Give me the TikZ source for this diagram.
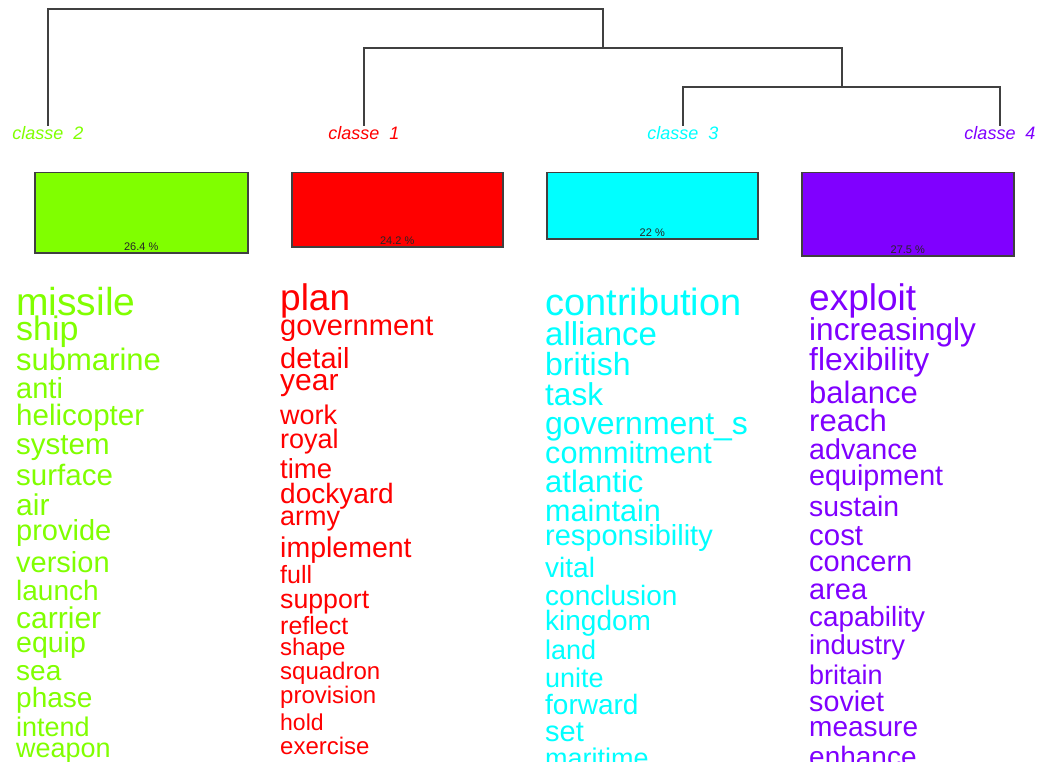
\documentclass[tikz,border=0pt]{standalone}
\usepackage{fontspec}
\setmainfont{Liberation Sans}
\definecolor{cgreen}{HTML}{80FF00}
\definecolor{cred}{HTML}{FF0000}
\definecolor{ccyan}{HTML}{00FFFF}
\definecolor{cpurple}{HTML}{8000FF}
\definecolor{cline}{HTML}{404040}
\tikzset{
  word/.style={anchor=base west, inner sep=0pt, font=\fontsize{#1}{#1}\selectfont},
  classlabel/.style={anchor=base, inner sep=1pt, font=\fontsize{18}{18}\selectfont\itshape},
  tree/.style={draw=cline, line width=1.5pt},
  classbox/.style={draw=cline, line width=1.5pt, anchor=north west, inner sep=0pt, minimum width=#1},
  pct/.style={anchor=base, inner sep=0pt, font=\fontsize{11}{11}\selectfont, text=black!85}
}
\begin{document}
\begin{tikzpicture}[x=1pt,y=-1pt]
\useasboundingbox (0,0) rectangle (1038,762);
\clip (0,0) rectangle (1038,762);
\fill[white] (0,0) rectangle (1038,762);
% class labels
\node[classlabel, text=cgreen] (l2) at (48,140) {classe~~2};
\node[classlabel, text=cred] (l1) at (364,140) {classe~~1};
\node[classlabel, text=ccyan] (l3) at (683,140) {classe~~3};
\node[classlabel, text=cpurple] (l4) at (1000,140) {classe~~4};
% dendrogram joins
\coordinate (j1) at (325,9);
\coordinate (j2) at (603,48);
\coordinate (j3) at (842,87);
\draw[tree] (l2.north) |- (j1) -| (j2);
\draw[tree] (l1.north) |- (j2) -| (j3);
\draw[tree] (l3.north) |- (j3) -| (l4.north);
% boxes
\node[classbox=213pt, minimum height=80pt, fill=cgreen] (b2) at (34,172) {};
\node[classbox=211pt, minimum height=74pt, fill=cred] (b1) at (291,172) {};
\node[classbox=211pt, minimum height=66pt, fill=ccyan] (b3) at (546,172) {};
\node[classbox=212pt, minimum height=83pt, fill=cpurple] (b4) at (801,172) {};
\node[pct] (p2) at ([yshift=3pt]b2.south) {26.4 \%};
\node[pct] (p1) at ([yshift=3pt]b1.south) {24.2 \%};
\node[pct] (p3) at ([yshift=3pt]b3.south) {22 \%};
\node[pct] (p4) at ([yshift=3pt]b4.south) {27.5 \%};
% words class 2
\foreach \t/\s/\y [count=\i] in {missile/39/315, ship/34/340, submarine/31/370, anti/29/398,
  helicopter/29.5/425, system/29.5/454, surface/29.5/485, air/30/515, provide/29/540,
  version/29/572, launch/28/600, carrier/30/628, equip/28.5/652, sea/28/680,
  phase/28/707, intend/27/736, weapon/27/757}
  \node[word=\s, text=cgreen] (g\i) at (16,\y) {\t};
% words class 1
\foreach \t/\s/\y [count=\i] in {plan/37/310, government/29/335, detail/29/368, year/30/390,
  work/27/424, royal/27/448, time/27.5/478, dockyard/28/503, army/27/525,
  implement/28.5/557, full/25/583, support/26.7/608, reflect/25/634, shape/24/655,
  squadron/24/679, provision/24/703, hold/23/730, exercise/24/754}
  \node[word=\s, text=cred] (r\i) at (280,\y) {\t};
% words class 3
\foreach \t/\s/\y [count=\i] in {contribution/38/315, alliance/33/345, british/32/375,
  task/31.6/405, government\_s/32/434, commitment/30.6/463, atlantic/31/492,
  maintain/30.6/521, responsibility/29/545, vital/28/577, conclusion/28/605,
  kingdom/28/630, land/27/659, unite/27/687, forward/28/714, set/29/741, maritime/27/767}
  \node[word=\s, text=ccyan] (c\i) at (545,\y) {\t};
% words class 4
\foreach \t/\s/\y [count=\i] in {exploit/37/310, increasingly/31.6/340, flexibility/31.8/370,
  balance/31/403, reach/31/431, advance/28.7/459, equipment/28.7/485, sustain/28.4/516,
  cost/29.4/545, concern/29/571, area/29/599, capability/27.8/626, industry/27.4/654,
  britain/27/684, soviet/28.7/711, measure/28/736, enhance/28/766}
  \node[word=\s, text=cpurple] (v\i) at (809,\y) {\t};
\end{tikzpicture}
\end{document}
